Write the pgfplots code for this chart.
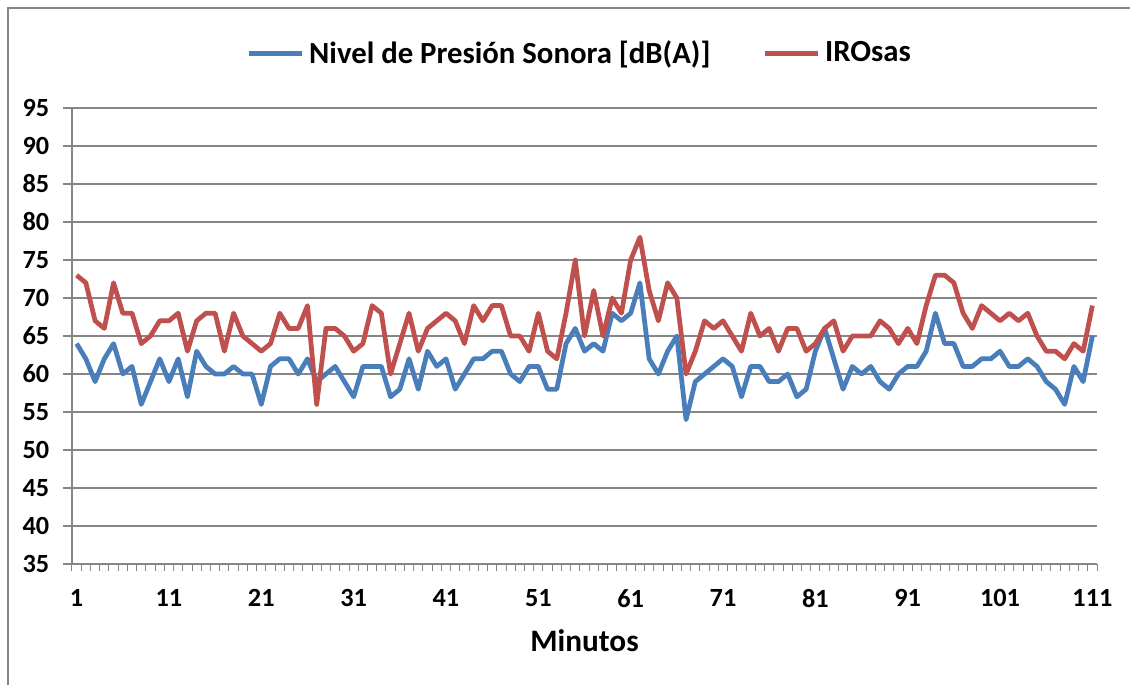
\documentclass[border=0pt]{standalone}
\usepackage{fontspec}
\setmainfont{Carlito}
\usepackage{pgfplots}
\usepackage{pgfplotstable}
\pgfplotsset{compat=1.18}

\definecolor{nivel}{RGB}{74,126,187}
\definecolor{iro}{RGB}{192,80,77}
\definecolor{rejilla}{RGB}{134,134,134}

% minuto, nivel de presion sonora, IROsas
\pgfplotstableread{
min nivel iro
1 64 73
2 62 72
3 59 67
4 62 66
5 64 72
6 60 68
7 61 68
8 56 64
9 59 65
10 62 67
11 59 67
12 62 68
13 57 63
14 63 67
15 61 68
16 60 68
17 60 63
18 61 68
19 60 65
20 60 64
21 56 63
22 61 64
23 62 68
24 62 66
25 60 66
26 62 69
27 59 56
28 60 66
29 61 66
30 59 65
31 57 63
32 61 64
33 61 69
34 61 68
35 57 60
36 58 64
37 62 68
38 58 63
39 63 66
40 61 67
41 62 68
42 58 67
43 60 64
44 62 69
45 62 67
46 63 69
47 63 69
48 60 65
49 59 65
50 61 63
51 61 68
52 58 63
53 58 62
54 64 68
55 66 75
56 63 65
57 64 71
58 63 65
59 68 70
60 67 68
61 68 75
62 72 78
63 62 71
64 60 67
65 63 72
66 65 70
67 54 60
68 59 63
69 60 67
70 61 66
71 62 67
72 61 65
73 57 63
74 61 68
75 61 65
76 59 66
77 59 63
78 60 66
79 57 66
80 58 63
81 63 64
82 66 66
83 62 67
84 58 63
85 61 65
86 60 65
87 61 65
88 59 67
89 58 66
90 60 64
91 61 66
92 61 64
93 63 69
94 68 73
95 64 73
96 64 72
97 61 68
98 61 66
99 62 69
100 62 68
101 63 67
102 61 68
103 61 67
104 62 68
105 61 65
106 59 63
107 58 63
108 56 62
109 61 64
110 59 63
111 65 69
}\datos

\begin{document}
\begin{tikzpicture}
\useasboundingbox (0pt,0pt) rectangle (452pt,274pt);
\draw[rejilla, line width=0.8pt] (3.2pt,0pt) -- (3.2pt,270.8pt) -- (452pt,270.8pt);
\begin{axis}[
    at={(28.8pt,48.4pt)},
    anchor=south west,
    scale only axis,
    width=410pt,
    height=182.4pt,
    xmin=0.5, xmax=111.5,
    ymin=35, ymax=95,
    ytick={35,40,...,95},
    xtick={1,11,...,111},
    minor xtick={0.5,1.5,...,111.5},
    axis lines*=left,
    axis line style={rejilla, line width=0.6pt},
    tick align=outside,
    major tick length=3.6pt,
    minor tick length=2.6pt,
    xtick style={draw=none},
    minor x tick style={rejilla, line width=0.4pt, draw=rejilla},
    ytick style={rejilla, line width=0.6pt},
    ymajorgrids=true,
    grid style={rejilla, line width=0.6pt},
    /pgf/number format/assume math mode=true,
    every tick label/.append style={font=\fontsize{10.5}{12}\selectfont\bfseries},
    xticklabel style={yshift=-3pt},
    yticklabel style={xshift=-2pt},
    xlabel={Minutos},
    xlabel style={font=\fontsize{12.5}{14}\selectfont\bfseries, yshift=-2pt},
    legend columns=2,
    legend style={at={(0.497,1.119)}, anchor=center, draw=none, fill=none,
        font=\fontsize{12.3}{14}\selectfont\bfseries,
        /tikz/every even column/.append style={column sep=19pt}},
    legend image code/.code={\draw[#1] (0pt,0pt) -- (21pt,0pt);},
]
\addplot[nivel, line width=1.9pt, line join=round] table[x=min, y=nivel] {\datos};
\addplot[iro, line width=1.9pt, line join=round] table[x=min, y=iro] {\datos};
\legend{Nivel de Presión Sonora [dB(A)], IROsas}
\end{axis}
\end{tikzpicture}
\end{document}
